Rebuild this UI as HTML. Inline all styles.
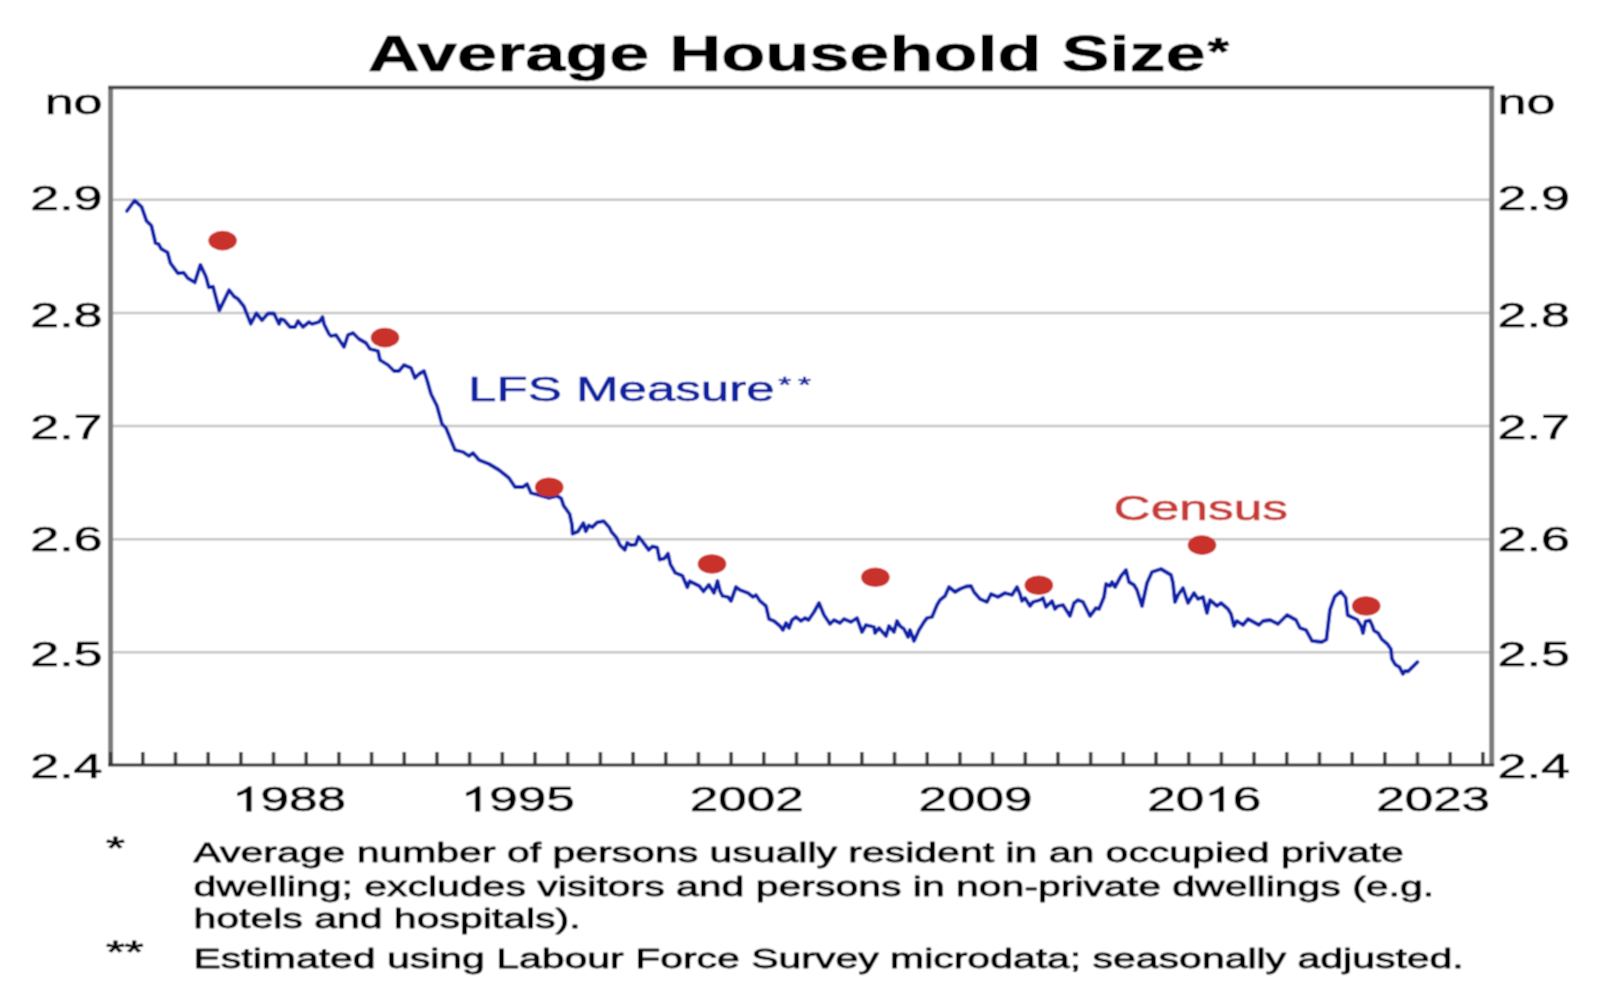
<!DOCTYPE html>
<html><head><meta charset="utf-8"><title>Average Household Size</title>
<style>
html,body{margin:0;padding:0;background:#fff;width:1612px;height:1000px;overflow:hidden}
svg{display:block}
text{font-family:"Liberation Sans",sans-serif}
</style></head><body>
<svg width="1612" height="1000" viewBox="0 0 1612 1000">
<rect width="1612" height="1000" fill="#fff"/>
<defs><filter id="soft" x="0" y="0" width="1612" height="1000" filterUnits="userSpaceOnUse"><feConvolveMatrix order="3" kernelMatrix="1 2 1 2 4 2 1 2 1" divisor="16" edgeMode="duplicate"/></filter></defs>
<g filter="url(#soft)"><rect width="1612" height="1000" fill="#fff"/>
<line x1="110.6" y1="652.35" x2="1491.7" y2="652.35" stroke="#c6c6c6" stroke-width="2.5"/>
<line x1="110.6" y1="539.2" x2="1491.7" y2="539.2" stroke="#c6c6c6" stroke-width="2.5"/>
<line x1="110.6" y1="426.05" x2="1491.7" y2="426.05" stroke="#c6c6c6" stroke-width="2.5"/>
<line x1="110.6" y1="312.9" x2="1491.7" y2="312.9" stroke="#c6c6c6" stroke-width="2.5"/>
<line x1="110.6" y1="199.75" x2="1491.7" y2="199.75" stroke="#c6c6c6" stroke-width="2.5"/>
<line x1="110.6" y1="87.5" x2="110.6" y2="765" stroke="#7c7c7c" stroke-width="5"/>
<line x1="1491.7" y1="87.5" x2="1491.7" y2="765" stroke="#7c7c7c" stroke-width="5"/>
<line x1="108.1" y1="87.5" x2="1494.2" y2="87.5" stroke="#444" stroke-width="3.4"/>
<line x1="110.6" y1="752" x2="110.6" y2="765" stroke="#404040" stroke-width="3.6"/>
<line x1="142.78" y1="752" x2="142.78" y2="765" stroke="#404040" stroke-width="3.6"/>
<line x1="175.47" y1="752" x2="175.47" y2="765" stroke="#404040" stroke-width="3.6"/>
<line x1="208.16" y1="752" x2="208.16" y2="765" stroke="#404040" stroke-width="3.6"/>
<line x1="240.84" y1="752" x2="240.84" y2="765" stroke="#404040" stroke-width="3.6"/>
<line x1="273.52" y1="752" x2="273.52" y2="765" stroke="#404040" stroke-width="3.6"/>
<line x1="306.21" y1="752" x2="306.21" y2="765" stroke="#404040" stroke-width="3.6"/>
<line x1="338.89" y1="752" x2="338.89" y2="765" stroke="#404040" stroke-width="3.6"/>
<line x1="371.58" y1="752" x2="371.58" y2="765" stroke="#404040" stroke-width="3.6"/>
<line x1="404.26" y1="752" x2="404.26" y2="765" stroke="#404040" stroke-width="3.6"/>
<line x1="436.95" y1="752" x2="436.95" y2="765" stroke="#404040" stroke-width="3.6"/>
<line x1="469.63" y1="752" x2="469.63" y2="765" stroke="#404040" stroke-width="3.6"/>
<line x1="502.32" y1="752" x2="502.32" y2="765" stroke="#404040" stroke-width="3.6"/>
<line x1="535" y1="752" x2="535" y2="765" stroke="#404040" stroke-width="3.6"/>
<line x1="567.69" y1="752" x2="567.69" y2="765" stroke="#404040" stroke-width="3.6"/>
<line x1="600.38" y1="752" x2="600.38" y2="765" stroke="#404040" stroke-width="3.6"/>
<line x1="633.06" y1="752" x2="633.06" y2="765" stroke="#404040" stroke-width="3.6"/>
<line x1="665.75" y1="752" x2="665.75" y2="765" stroke="#404040" stroke-width="3.6"/>
<line x1="698.43" y1="752" x2="698.43" y2="765" stroke="#404040" stroke-width="3.6"/>
<line x1="731.12" y1="752" x2="731.12" y2="765" stroke="#404040" stroke-width="3.6"/>
<line x1="763.8" y1="752" x2="763.8" y2="765" stroke="#404040" stroke-width="3.6"/>
<line x1="796.49" y1="752" x2="796.49" y2="765" stroke="#404040" stroke-width="3.6"/>
<line x1="829.17" y1="752" x2="829.17" y2="765" stroke="#404040" stroke-width="3.6"/>
<line x1="861.86" y1="752" x2="861.86" y2="765" stroke="#404040" stroke-width="3.6"/>
<line x1="894.54" y1="752" x2="894.54" y2="765" stroke="#404040" stroke-width="3.6"/>
<line x1="927.23" y1="752" x2="927.23" y2="765" stroke="#404040" stroke-width="3.6"/>
<line x1="959.91" y1="752" x2="959.91" y2="765" stroke="#404040" stroke-width="3.6"/>
<line x1="992.6" y1="752" x2="992.6" y2="765" stroke="#404040" stroke-width="3.6"/>
<line x1="1025.28" y1="752" x2="1025.28" y2="765" stroke="#404040" stroke-width="3.6"/>
<line x1="1057.96" y1="752" x2="1057.96" y2="765" stroke="#404040" stroke-width="3.6"/>
<line x1="1090.65" y1="752" x2="1090.65" y2="765" stroke="#404040" stroke-width="3.6"/>
<line x1="1123.34" y1="752" x2="1123.34" y2="765" stroke="#404040" stroke-width="3.6"/>
<line x1="1156.02" y1="752" x2="1156.02" y2="765" stroke="#404040" stroke-width="3.6"/>
<line x1="1188.7" y1="752" x2="1188.7" y2="765" stroke="#404040" stroke-width="3.6"/>
<line x1="1221.39" y1="752" x2="1221.39" y2="765" stroke="#404040" stroke-width="3.6"/>
<line x1="1254.08" y1="752" x2="1254.08" y2="765" stroke="#404040" stroke-width="3.6"/>
<line x1="1286.76" y1="752" x2="1286.76" y2="765" stroke="#404040" stroke-width="3.6"/>
<line x1="1319.44" y1="752" x2="1319.44" y2="765" stroke="#404040" stroke-width="3.6"/>
<line x1="1352.13" y1="752" x2="1352.13" y2="765" stroke="#404040" stroke-width="3.6"/>
<line x1="1384.82" y1="752" x2="1384.82" y2="765" stroke="#404040" stroke-width="3.6"/>
<line x1="1417.5" y1="752" x2="1417.5" y2="765" stroke="#404040" stroke-width="3.6"/>
<line x1="1450.18" y1="752" x2="1450.18" y2="765" stroke="#404040" stroke-width="3.6"/>
<line x1="1482.87" y1="752" x2="1482.87" y2="765" stroke="#404040" stroke-width="3.6"/>
<line x1="108.1" y1="765" x2="1494.2" y2="765" stroke="#333" stroke-width="2.8"/>
<path d="M126.9 211 L134.6 200.5 L141.6 206.8 L146.5 220.8 L151.4 225.7 L155.6 243.2 L158.4 243.9 L161.2 248.8 L167.5 252.3 L170.3 262.8 L178 273.3 L183.6 272.6 L187.8 278.2 L194.8 282.4 L200.4 264.9 L206 276.8 L208.8 287.3 L213 286.6 L219.3 310.4 L229.1 290.1 L234 296.4 L238.2 299.2 L243.8 306.2 L250.8 323.7 L256.4 313.2 L262 320.2 L268 313.5 L274 313.5 L279 324 L281 319 L284 320 L290 327 L295 327 L298 321 L303 327 L309 322 L312 324 L319 322 L322.5 317 L324 324 L329 334 L331 336 L336 335 L344 347 L348 335 L353 333 L359 339 L366 343 L370 349 L378 351 L380 360 L388 365 L394 371 L399 371 L404 365 L411 368 L415 378 L419 374 L424 371 L427 380 L431 394 L437 406 L442 424 L446 428 L455 450 L463 452 L469 456 L473 453 L479 460 L489 464 L499 470 L509 478 L515 487 L523 487 L527 484 L531 493 L535 494 L549 498 L557 496 L561.2 498.4 L563.6 505.6 L569.6 514 L572 524.8 L572.6 533.8 L578 531.4 L583.4 523 L585.8 531.4 L588.8 525.4 L592.4 527.2 L597.2 522.4 L603.8 521.2 L609.2 527.2 L611.6 532 L616.4 537.4 L620 545.2 L624.8 550 L627.2 542.8 L630.8 545.2 L635.6 544.6 L638.6 536.8 L641.6 540.4 L648.8 550 L652.4 546.4 L657.2 547.6 L659.6 559.6 L664.4 558.4 L668 553.6 L670.4 564.4 L675.2 572.8 L682.4 575.8 L687.3 587.2 L689.7 581.2 L699.3 586 L703.5 591.4 L708.9 584.8 L714 593 L717.5 581 L720 591 L722.5 596 L728 597 L731 601 L736 587 L740 590 L748 593 L753 597 L756 595 L760 601 L766 606 L769 619 L774 621 L780 626 L783 630 L786 623 L789 628 L792 620 L796 617 L801 621 L805 618 L808.5 620 L814 612 L819 603 L824 615 L830 624 L834 620 L840 623 L844 619 L851 622 L857 618 L862 632 L866 625 L874 627 L875 633 L879 628 L886 636 L889 626 L894 632 L897 621 L900 626 L904 629 L908 637 L910 630 L914 641 L919 630 L924 622 L927 618 L932 617 L937 605 L940 600 L945 596 L949 587 L955 592 L960 589 L966 586.5 L971 586 L974 592 L980 599 L987 602 L991 594 L998 597 L1005 593 L1012 595 L1017 587 L1020 594 L1022 601 L1025 598 L1030 606 L1033 602 L1040 600 L1043 598 L1046 607 L1050 603 L1052 601 L1055 609 L1058 606 L1063 605 L1070 616 L1074 603 L1078 600 L1083 602 L1090 616 L1096 608 L1099 609 L1104 597 L1106 584 L1110 586 L1112 582 L1115 587 L1121 576 L1126 570 L1129 582 L1134 585 L1137 590 L1142 606 L1147 583 L1152 572 L1161 569 L1166 572 L1171 575 L1173 583 L1175 602 L1178 595 L1183 588 L1188 603 L1194 593 L1198 599 L1203 597 L1207 613 L1210 600 L1217 606 L1221 603 L1228 609 L1231 614 L1234 626 L1237 621 L1243 625 L1248 619 L1259 625 L1263 621 L1270 620 L1278 624 L1287 615 L1296 620 L1300 628 L1306 630 L1312 640.8 L1321.6 642 L1326.4 639.6 L1330 609.6 L1334.8 596.4 L1340.8 591.6 L1345.6 597.6 L1347.7 615.3 L1357 619.6 L1361 626 L1363 633.2 L1365.5 621.3 L1369.8 620.4 L1372 625 L1374 630.6 L1378.3 633.2 L1381.7 639.1 L1387.6 644.2 L1391 649.3 L1391.9 658.7 L1395.3 664.6 L1399.5 667.2 L1402.9 674 L1405 671 L1408 671.4 L1417.4 662.1" fill="none" stroke="#0c22aa" stroke-width="3.8" stroke-linejoin="round" stroke-linecap="round"/>
<ellipse cx="222.6" cy="240.6" rx="14.3" ry="9.8" fill="#c9302c"/>
<ellipse cx="385" cy="337.6" rx="14.3" ry="9.8" fill="#c9302c"/>
<ellipse cx="549.2" cy="487.2" rx="14.3" ry="9.8" fill="#c9302c"/>
<ellipse cx="712" cy="564" rx="14.3" ry="9.8" fill="#c9302c"/>
<ellipse cx="875.4" cy="577.2" rx="14.3" ry="9.8" fill="#c9302c"/>
<ellipse cx="1038.8" cy="585.2" rx="14.3" ry="9.8" fill="#c9302c"/>
<ellipse cx="1202" cy="545.1" rx="14.3" ry="9.8" fill="#c9302c"/>
<ellipse cx="1366.2" cy="606" rx="14.3" ry="9.8" fill="#c9302c"/>
<text transform="translate(367.7 70.8) scale(1.47 1)" font-size="49" text-anchor="start" fill="#000" font-weight="bold" stroke="#000" stroke-width="0.6" stroke-linejoin="round">Average Household Size</text>
<text transform="translate(1207.4 64.9) scale(1.46 1)" font-size="38" text-anchor="start" fill="#000" font-weight="bold" stroke="#000" stroke-width="0.6" stroke-linejoin="round">*</text>
<text transform="translate(102.6 113.5) scale(1.51 1)" font-size="34.51" text-anchor="end" fill="#000" stroke="#000" stroke-width="0.55" stroke-linejoin="round">no</text>
<text transform="translate(1497.6 113.5) scale(1.51 1)" font-size="34.51" text-anchor="start" fill="#000" stroke="#000" stroke-width="0.55" stroke-linejoin="round">no</text>
<text transform="translate(102.6 210.4) scale(1.51 1)" font-size="34.51" text-anchor="end" fill="#000" stroke="#000" stroke-width="0.55" stroke-linejoin="round">2.9</text>
<text transform="translate(1497.6 210.4) scale(1.51 1)" font-size="34.51" text-anchor="start" fill="#000" stroke="#000" stroke-width="0.55" stroke-linejoin="round">2.9</text>
<text transform="translate(102.6 326.7) scale(1.51 1)" font-size="34.51" text-anchor="end" fill="#000" stroke="#000" stroke-width="0.55" stroke-linejoin="round">2.8</text>
<text transform="translate(1497.6 326.7) scale(1.51 1)" font-size="34.51" text-anchor="start" fill="#000" stroke="#000" stroke-width="0.55" stroke-linejoin="round">2.8</text>
<text transform="translate(102.6 439) scale(1.51 1)" font-size="34.51" text-anchor="end" fill="#000" stroke="#000" stroke-width="0.55" stroke-linejoin="round">2.7</text>
<text transform="translate(1497.6 439) scale(1.51 1)" font-size="34.51" text-anchor="start" fill="#000" stroke="#000" stroke-width="0.55" stroke-linejoin="round">2.7</text>
<text transform="translate(102.6 551.2) scale(1.51 1)" font-size="34.51" text-anchor="end" fill="#000" stroke="#000" stroke-width="0.55" stroke-linejoin="round">2.6</text>
<text transform="translate(1497.6 551.2) scale(1.51 1)" font-size="34.51" text-anchor="start" fill="#000" stroke="#000" stroke-width="0.55" stroke-linejoin="round">2.6</text>
<text transform="translate(102.6 665.5) scale(1.51 1)" font-size="34.51" text-anchor="end" fill="#000" stroke="#000" stroke-width="0.55" stroke-linejoin="round">2.5</text>
<text transform="translate(1497.6 665.5) scale(1.51 1)" font-size="34.51" text-anchor="start" fill="#000" stroke="#000" stroke-width="0.55" stroke-linejoin="round">2.5</text>
<text transform="translate(102.6 778) scale(1.51 1)" font-size="34.51" text-anchor="end" fill="#000" stroke="#000" stroke-width="0.55" stroke-linejoin="round">2.4</text>
<text transform="translate(1497.6 778) scale(1.51 1)" font-size="34.51" text-anchor="start" fill="#000" stroke="#000" stroke-width="0.55" stroke-linejoin="round">2.4</text>
<text transform="translate(232.02 811.3) scale(1.49 1)" font-size="34.4" fill="#000" stroke="#000" stroke-width="0.55" stroke-linejoin="round"> 988</text><path transform="translate(232.02 811.3) scale(0.02509 -0.01680)" d="M763 0L583 0L583 1147Q518 1085 412 1022Q306 960 222 929L222 1103Q373 1174 486 1272Q599 1370 646 1466L763 1466Z" fill="#000" stroke="#000" stroke-width="32.74" stroke-linejoin="round"/>
<text transform="translate(460.82 811.3) scale(1.49 1)" font-size="34.4" fill="#000" stroke="#000" stroke-width="0.55" stroke-linejoin="round"> 995</text><path transform="translate(460.82 811.3) scale(0.02509 -0.01680)" d="M763 0L583 0L583 1147Q518 1085 412 1022Q306 960 222 929L222 1103Q373 1174 486 1272Q599 1370 646 1466L763 1466Z" fill="#000" stroke="#000" stroke-width="32.74" stroke-linejoin="round"/>
<text transform="translate(746.76 811.3) scale(1.49 1)" font-size="34.4" text-anchor="middle" fill="#000" stroke="#000" stroke-width="0.55" stroke-linejoin="round">2002</text>
<text transform="translate(975.55 811.3) scale(1.49 1)" font-size="34.4" text-anchor="middle" fill="#000" stroke="#000" stroke-width="0.55" stroke-linejoin="round">2009</text>
<text transform="translate(1147.2 811.3) scale(1.49 1)" font-size="34.4" fill="#000" stroke="#000" stroke-width="0.55" stroke-linejoin="round">20 6</text><path transform="translate(1204.35 811.3) scale(0.02509 -0.01680)" d="M763 0L583 0L583 1147Q518 1085 412 1022Q306 960 222 929L222 1103Q373 1174 486 1272Q599 1370 646 1466L763 1466Z" fill="#000" stroke="#000" stroke-width="32.74" stroke-linejoin="round"/>
<text transform="translate(1433.14 811.3) scale(1.49 1)" font-size="34.4" text-anchor="middle" fill="#000" stroke="#000" stroke-width="0.55" stroke-linejoin="round">2023</text>
<text transform="translate(468 401) scale(1.49 1)" font-size="34.3" text-anchor="start" fill="#0f22a0" stroke="#0f22a0" stroke-width="0.55" stroke-linejoin="round">LFS Measure</text>
<text transform="translate(778.3 392.3) scale(1.52 1)" font-size="22" text-anchor="start" fill="#0f22a0" stroke="#0f22a0" stroke-width="0.55" stroke-linejoin="round">*</text>
<text transform="translate(798.1 392.3) scale(1.52 1)" font-size="22" text-anchor="start" fill="#0f22a0" stroke="#0f22a0" stroke-width="0.55" stroke-linejoin="round">*</text>
<text transform="translate(1113.6 519.5) scale(1.5 1)" font-size="34.3" text-anchor="start" fill="#c83a36" stroke="#c83a36" stroke-width="0.55" stroke-linejoin="round">Census</text>
<text transform="translate(106 859) scale(1.52 1)" font-size="31.8" text-anchor="start" fill="#000" stroke="#000" stroke-width="0.8" stroke-linejoin="round">*</text>
<text transform="translate(193.5 861.8) scale(1.49 1)" font-size="27.5" text-anchor="start" fill="#000" stroke="#000" stroke-width="0.8" stroke-linejoin="round">Average number of persons usually resident in an occupied private</text>
<text transform="translate(193.5 895.8) scale(1.49 1)" font-size="27.5" text-anchor="start" fill="#000" stroke="#000" stroke-width="0.8" stroke-linejoin="round">dwelling; excludes visitors and persons in non-private dwellings (e.g.</text>
<text transform="translate(193.5 928) scale(1.49 1)" font-size="27.5" text-anchor="start" fill="#000" stroke="#000" stroke-width="0.8" stroke-linejoin="round">hotels and hospitals).</text>
<text transform="translate(106 963.3) scale(1.52 1)" font-size="31.8" text-anchor="start" fill="#000" stroke="#000" stroke-width="0.8" stroke-linejoin="round">**</text>
<text transform="translate(193.5 967.8) scale(1.49 1)" font-size="27.5" text-anchor="start" fill="#000" stroke="#000" stroke-width="0.8" stroke-linejoin="round">Estimated using Labour Force Survey microdata; seasonally adjusted.</text>
</g>
</svg>
</body></html>
